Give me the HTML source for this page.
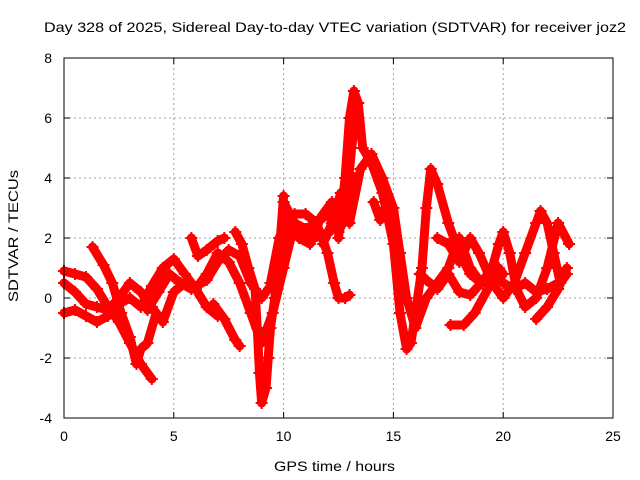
<!DOCTYPE html>
<html><head><meta charset="utf-8"><style>
body{margin:0;background:#fff}
svg{display:block;font-family:"Liberation Sans",sans-serif}
</style></head><body>
<svg id="c" width="640" height="480">
<text x="44" y="32" font-size="14" textLength="582" lengthAdjust="spacingAndGlyphs">Day 328 of 2025, Sidereal Day-to-day VTEC variation (SDTVAR) for receiver joz2</text>
<text x="274" y="471" font-size="14" textLength="121" lengthAdjust="spacingAndGlyphs">GPS time / hours</text>
<text transform="translate(18,302) rotate(-90)" font-size="14" textLength="132" lengthAdjust="spacingAndGlyphs">SDTVAR / TECUs</text>
<g id="grid"></g><g id="marks"></g>
<rect x="64" y="58" width="549" height="360" fill="none" stroke="#000"/>
<g id="ticks"></g>
</svg>
<script>
const xTicks=[0,5,10,15,20,25];
const yTicks=[-4,-2,0,2,4,6,8];
const t1=[[0,0.9],[0.5,0.8],[1,0.7],[1.5,0.3],[2,-0.3],[2.5,-0.8],[3,-1.5],[3.5,-2.2],[4,-2.7]];
const t2=[[0,-0.5],[0.5,-0.4],[1,-0.6],[1.5,-0.8],[2,-0.6],[2.5,-0.2],[3,0],[3.5,-0.3],[4,0.4],[4.5,1],[5,1.3],[5.5,0.8],[6,0.3],[6.5,-0.3],[7,-0.6]];
const t3=[[0,0.5],[0.5,0.2],[1,-0.2],[1.5,-0.3],[2,-0.4],[2.5,0],[3,0.5],[3.5,0.2],[4,-0.3],[4.5,-0.8],[5,0.2],[5.5,0.5],[6,0.3],[6.5,0.8],[7,1.5],[7.5,1.2],[8,0.5],[8.5,-0.5],[9,-1.5],[9.5,-0.5],[10,1],[10.5,2.5]];
const t4=[[1.3,1.7],[1.8,1.1],[2.2,0.5],[2.6,-0.5],[3,-1.3],[3.3,-2.2],[3.5,-1.7],[3.8,-1.5],[4.2,-0.5]];
const t5=[[3.8,-0.4],[4.3,0.2],[4.8,0.8],[5.3,0.5],[5.8,0.3],[6.5,0.6],[7,1.2],[7.5,1.6],[8,1.4],[8.5,0.5],[9,0],[9.5,0.5],[10,2],[10.5,2.8],[11,2.8],[11.5,2.5],[12,2.8],[12.5,2.2],[13,3],[13.2,4]];
const t6=[[5.8,2],[6.1,1.4],[6.5,1.6],[7,1.9],[7.3,2]];
const t7=[[7.8,2.2],[8.1,1.8],[8.4,1],[8.7,0.3],[8.8,-1],[8.9,-2.5],[9,-3.5],[9.2,-3],[9.3,-2],[9.4,-1],[9.6,0],[9.8,1.5],[10,3.4]];
const t8=[[6.8,-0.2],[7.3,-0.7],[7.8,-1.4],[8,-1.6]];
const t9=[[10,3.2],[10.5,2.5],[11,2.3],[11.5,2.5],[12,1.5],[12.3,0.5],[12.5,0],[12.8,0],[13,0.1]];
const t10=[[12.5,2],[12.8,4],[13,6],[13.2,6.9],[13.4,6.5],[13.6,5],[14,4.5],[14.5,3.5],[15,1.8],[15.3,-0.5],[15.6,-1.7],[15.8,-1.5],[16,-0.5],[16.3,1],[16.5,3],[16.7,4.3],[17,3.8],[17.5,2.5],[18,1.5],[18.5,0.8],[19,0.5]];
const t11=[[11.8,1.8],[12.2,2.5],[12.6,3.5],[13,2.5],[13.5,4.3],[14,4.8],[14.5,4],[15,3],[15.3,1.5],[15.6,0],[16,-1],[16.5,0],[17,0.5],[17.5,1],[18,2],[18.5,1],[19,0.5],[19.5,1],[20,0.5],[20.5,0.3],[21,0.5],[21.5,0.2],[22,0.3],[22.5,0.5],[22.8,0.8]];
const t12=[[16.2,0.8],[16.5,0.6],[17,0.3],[17.5,0.8],[18,0.2],[18.5,0.1],[19,0.5],[19.5,1],[19.8,1.8],[20,2.2],[20.3,1.5],[20.6,0.3],[21,-0.3],[21.5,0],[22,1],[22.5,2.5],[23,1.8]];
const t13=[[17.6,-0.9],[18.2,-0.9],[18.7,-0.5],[19.3,0.3],[19.8,1],[20,0.8]];
const t14=[[17,2],[17.5,1.8],[18,1.2],[18.5,2],[18.9,1.5],[19.5,0.5],[20,0],[20.5,0.5],[21,1.5],[21.5,2.5],[21.7,2.9],[22,2.5],[22.3,1.5],[22.6,0.5],[22.9,0.8]];
const t15=[[21.5,-0.7],[22,-0.3],[22.5,0.3],[22.9,1]];
const t16=[[14.1,3.2],[14.4,2.6],[14.5,2.9]];
const t17=[[10.2,2.8],[10.7,2],[11.2,1.8],[11.7,2.7],[12.2,3.2],[12.6,2.5],[12.9,3.5],[13.1,5],[13.3,6.2]];
const t18=[[9.4,0.5],[9.8,2],[10.2,2.6],[10.8,2.2],[11.4,2.0],[12.1,2.2]];
const traces=[t1,t2,t3,t4,t5,t6,t7,t8,t9,t10,t11,t12,t13,t14,t15,t16,t17,t18];
const X=h=>64+h*549/25, Y=v=>298-v*30;
const NS='http://www.w3.org/2000/svg';
const grid=document.getElementById('grid'),ticks=document.getElementById('ticks'),marks=document.getElementById('marks');
function mk(tag,a,p){const e=document.createElementNS(NS,tag);for(const k in a)e.setAttribute(k,a[k]);p.appendChild(e);return e;}
xTicks.forEach(t=>{const x=X(t);
 if(t>0&&t<25){const g=mk('line',{x1:x,x2:x,y1:58,y2:418,stroke:'#a0a0a0','stroke-dasharray':'2,3'},grid);
 
 }
 mk('line',{x1:x,x2:x,y1:418,y2:412,stroke:'#000'},ticks);mk('line',{x1:x,x2:x,y1:58,y2:64,stroke:'#000'},ticks);
 const l=mk('text',{x:x,y:441,'font-size':14,'text-anchor':'middle'},ticks);l.textContent=t;
 
 });
yTicks.forEach(t=>{const y=Y(t);
 if(t>-4&&t<8){const g=mk('line',{x1:64,x2:613,y1:y,y2:y,stroke:'#a0a0a0','stroke-dasharray':'2,3'},grid);
 
 }
 mk('line',{x1:64,x2:70,y1:y,y2:y,stroke:'#000'},ticks);mk('line',{x1:613,x2:607,y1:y,y2:y,stroke:'#000'},ticks);
 const l=mk('text',{x:52,y:y+5,'font-size':14,'text-anchor':'end'},ticks);l.textContent=t;
 
 });
traces.forEach((tr,i)=>{
 const pl=mk('polyline',{points:tr.map(p=>X(p[0])+','+Y(p[1])).join(' '),fill:'none',stroke:'#f00','stroke-width':9,'stroke-linejoin':'round','stroke-linecap':'round'},marks);
 
 
 tr.forEach(p=>{const x=X(p[0]),y=Y(p[1]);
  const m=mk('path',{d:`M${x-6},${y}H${x+6}M${x},${y-6}V${y+6}`,stroke:'#f00','stroke-width':2},marks);
  
  });
});
</script>
</body></html>
